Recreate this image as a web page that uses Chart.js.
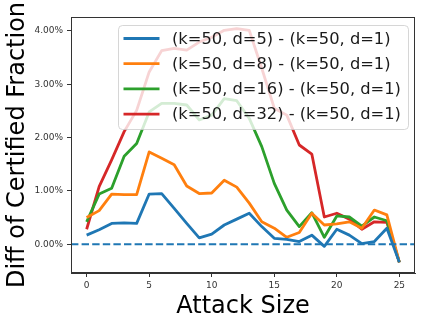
<!DOCTYPE html>
<html>
<head>
<meta charset="utf-8">
<script src="https://cdn.jsdelivr.net/npm/chart.js@4"></script>
<style>
  html, body { margin: 0; padding: 0; background: #fff; }
  #wrap { width: 423px; height: 324px; }
</style>
</head>
<body>
<div id="wrap"><canvas id="canvas" width="423" height="324"></canvas></div>
<script>
var attackSize = [0,1,2,3,4,5,6,7,8,9,10,11,12,13,14,15,16,17,18,19,20,21,22,23,24,25];
var d5  = [0.17,0.27,0.39,0.40,0.39,0.94,0.95,0.67,0.39,0.12,0.19,0.36,0.47,0.58,0.33,0.11,0.09,0.05,0.17,-0.04,0.28,0.17,0.01,0.05,0.30,-0.34];
var d8  = [0.50,0.63,0.94,0.93,0.93,1.73,1.61,1.49,1.09,0.95,0.96,1.20,1.07,0.77,0.42,0.30,0.13,0.22,0.58,0.36,0.38,0.42,0.30,0.64,0.55,-0.34];
var d16 = [0.42,0.94,1.05,1.65,1.89,2.48,2.64,2.64,2.61,2.33,2.42,2.73,2.69,2.36,1.83,1.14,0.64,0.33,0.59,0.13,0.53,0.51,0.34,0.51,0.44,-0.34];
var d32 = [0.28,1.08,1.58,2.11,2.51,3.23,3.63,3.67,3.64,3.79,3.88,4.01,4.04,4.01,3.30,2.55,2.42,1.86,1.69,0.51,0.58,0.47,0.28,0.42,0.41,-0.34];
var seriesLabels = ['(k=50, d=5) - (k=50, d=1)','(k=50, d=8) - (k=50, d=1)','(k=50, d=16) - (k=50, d=1)','(k=50, d=32) - (k=50, d=1)'];
var colors = ['#1f77b4','#ff7f0e','#2ca02c','#d62728'];
var xTicks = [0,5,10,15,20,25];
var yTicks = [0,1,2,3,4];

function pts(vals){ return attackSize.map(function(a,i){ return {x:a, y:vals[i]}; }); }

var datasets = [d5,d8,d16,d32].map(function(v,i){
  return { label: seriesLabels[i], data: pts(v), borderColor: colors[i], backgroundColor: colors[i],
           borderWidth: 2.8, pointRadius: 0, tension: 0, borderJoinStyle: 'round', fill: false };
});

// frame + dashed zero line + overlaid legend
var extras = {
  id: 'extras',
  afterDatasetsDraw: function(chart){
    var ctx = chart.ctx, a = chart.chartArea, ys = chart.scales.y;
    ctx.save();
    var y0 = ys.getPixelForValue(0);
    ctx.strokeStyle = '#1f77b4'; ctx.lineWidth = 2; ctx.setLineDash([7.4,3.2]);
    ctx.beginPath(); ctx.moveTo(a.left, y0); ctx.lineTo(a.right, y0); ctx.stroke();
    ctx.setLineDash([]);
    // legend
    var lx = 118.5, ly = 25.5, lw = 290, lh = 104, r = 4;
    ctx.beginPath();
    ctx.roundRect(lx, ly, lw, lh, r);
    ctx.fillStyle = 'rgba(255,255,255,0.8)'; ctx.fill();
    ctx.strokeStyle = 'rgba(204,204,204,0.8)'; ctx.lineWidth = 1; ctx.stroke();
    ctx.font = '16.3px "DejaVu Sans"'; ctx.textBaseline = 'middle'; ctx.textAlign = 'left';
    chart.data.datasets.forEach(function(ds, i){
      var ry = 38.5 + i*25.2;
      ctx.strokeStyle = ds.borderColor; ctx.lineWidth = 2.8;
      ctx.beginPath(); ctx.moveTo(123.5, ry); ctx.lineTo(159.5, ry); ctx.stroke();
      ctx.fillStyle = '#1a1a1a'; ctx.fillText(ds.label, 172, ry + 1);
    });
    // frame
    ctx.strokeStyle = '#333'; ctx.lineWidth = 1;
    ctx.strokeRect(a.left + 0.5, a.top + 0.5, a.right - a.left - 1, a.bottom - a.top - 1);
    ctx.restore();
  }
};

var ctx = document.getElementById('canvas').getContext('2d');
var myChart = new Chart(ctx, {
  type: 'line',
  data: { datasets: datasets },
  options: {
    responsive: false,
    animation: false,
    devicePixelRatio: 1,
    layout: { padding: { top: 17, right: 8, left: 0, bottom: 0 } },
    plugins: { legend: { display: false }, tooltip: { enabled: false } },
    scales: {
      x: {
        type: 'linear', min: -1.25, max: 26.25,
        afterBuildTicks: function(s){ s.ticks = xTicks.map(function(v){ return {value: v}; }); },
        afterFit: function(s){ s.height = 51; },
        grid: { display: true, drawOnChartArea: false, drawTicks: true, tickLength: 4, tickColor: '#333' },
        border: { display: true, color: '#333' },
        ticks: { color: '#333', font: { family: 'DejaVu Sans', size: 9 }, padding: 3, maxRotation: 0 },
        title: { display: true, text: 'Attack Size', color: '#000', font: { family: 'DejaVu Sans', size: 24 }, padding: { top: 0, bottom: 3 } }
      },
      y: {
        type: 'linear', min: -0.54, max: 4.26,
        afterBuildTicks: function(s){ s.ticks = yTicks.map(function(v){ return {value: v}; }); },
        afterFit: function(s){ s.width = 71; },
        grid: { display: true, drawOnChartArea: false, drawTicks: true, tickLength: 4, tickColor: '#333' },
        border: { display: true, color: '#333' },
        ticks: { color: '#333', font: { family: 'DejaVu Sans', size: 9 }, padding: 4,
                 callback: function(v){ return v.toFixed(2) + '%'; } },
        title: { display: true, text: 'Diff of Certified Fraction', color: '#000', font: { family: 'DejaVu Sans', size: 24 }, padding: { top: 3, bottom: 0 } }
      }
    }
  },
  plugins: [extras]
});
</script>
</body>
</html>
